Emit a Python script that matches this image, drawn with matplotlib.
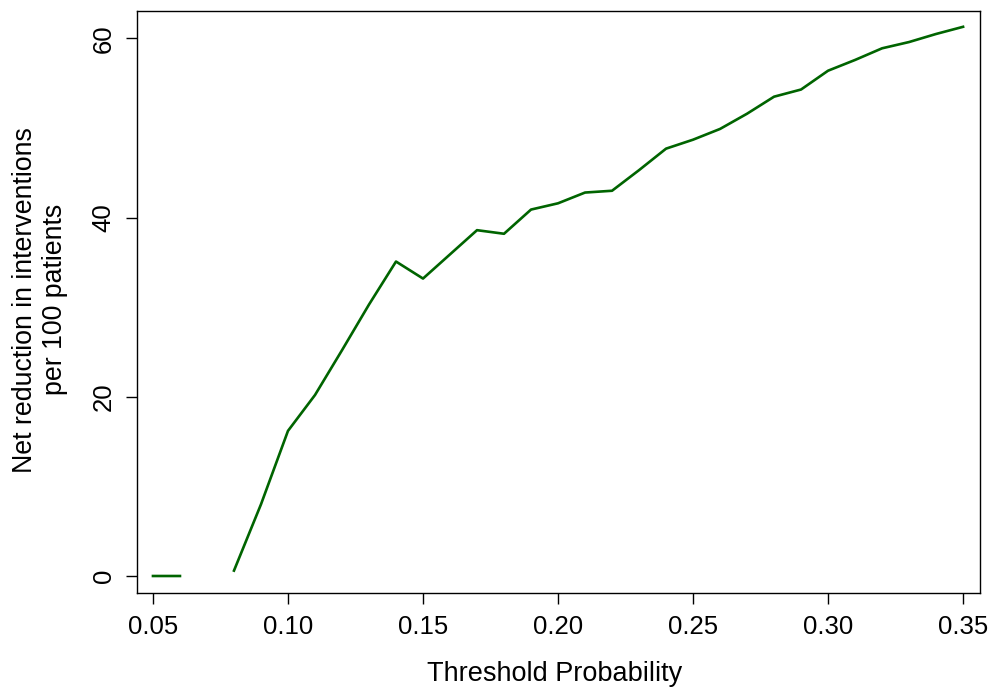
import numpy as np
import matplotlib
matplotlib.use('Agg')
import matplotlib.pyplot as plt

plt.rcParams['font.family'] = ['Liberation Sans', 'DejaVu Sans']

# threshold probabilities and net reduction (0.07 missing in the source)
thresholds = [0.05, 0.06, 0.07, 0.08, 0.09, 0.10, 0.11, 0.12, 0.13, 0.14,
              0.15, 0.16, 0.17, 0.18, 0.19, 0.20, 0.21, 0.22, 0.23, 0.24,
              0.25, 0.26, 0.27, 0.28, 0.29, 0.30, 0.31, 0.32, 0.33, 0.34, 0.35]
net_reduction = [0.0, 0.0, np.nan, 0.6, 8.0, 16.2, 20.2, 25.2, 30.3, 35.1,
                 33.2, 35.9, 38.6, 38.2, 40.9, 41.6, 42.8, 43.0, 45.3, 47.7,
                 48.7, 49.9, 51.6, 53.5, 54.3, 56.4, 57.6, 58.9, 59.6, 60.5, 61.3]
x_ticks = [0.05, 0.10, 0.15, 0.20, 0.25, 0.30, 0.35]
y_ticks = [0, 20, 40, 60]


def plot_curve():
    fig = plt.figure(figsize=(9.93, 6.89), dpi=100)
    ax = fig.add_axes([0.138, 0.1393, 0.849, 0.8452])
    ax.plot(thresholds, net_reduction, color='#006400', lw=1.9)
    ax.set_xlim(0.0441, 0.3563)
    ax.set_ylim(-1.9, 63.1)
    ax.set_xticks(x_ticks)
    ax.set_xticklabels(['{:.2f}'.format(t) for t in x_ticks])
    ax.set_yticks(y_ticks)
    ax.set_yticklabels([str(t) for t in y_ticks], rotation=90, va='center')
    ax.tick_params(labelsize=18.5, length=8, width=1)
    ax.tick_params(axis='x', pad=8)
    ax.tick_params(axis='y', pad=7.5)
    for s in ax.spines.values():
        s.set_linewidth(1)
    # kept just inside the bottom edge
    fig.text(0.5585, 0.003, 'Threshold Probability', ha='center', va='bottom', fontsize=19.5)
    fig.text(0.040, 0.565, 'Net reduction in interventions\nper 100 patients',
             ha='center', va='center', rotation=90, fontsize=19.3, linespacing=1.2)
    fig.savefig('out.png', dpi=100)


if __name__ == "__main__":
    plot_curve()
